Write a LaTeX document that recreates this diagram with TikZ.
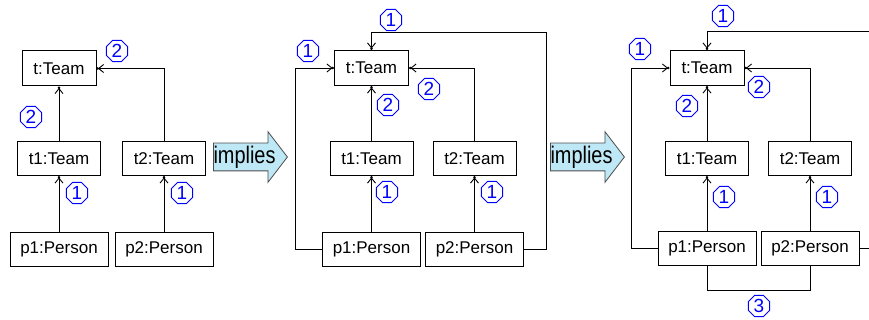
\documentclass[tikz,border=0pt]{standalone}
\usepackage{fontspec}
\setmainfont{Liberation Sans}
\usetikzlibrary{positioning, arrows.meta, shapes.geometric, shapes.arrows}
\definecolor{impliesfill}{RGB}{190,232,245}

\begin{document}
\begin{tikzpicture}[
    x=1pt, y=-1pt,
    topbox/.style={rectangle, draw=black, line width=1pt, minimum width=74pt, minimum height=35pt, font=\fontsize{17}{20}\selectfont, inner sep=2pt},
    teambox/.style={topbox, minimum width=83pt, minimum height=34pt},
    personbox/.style={topbox, minimum width=98pt, minimum height=34pt},
    implies/.style={single arrow, draw=black!70, fill=impliesfill, line width=0.8pt, anchor=tail, minimum height=74pt, single arrow head extend=11.5pt, single arrow tip angle=105, inner xsep=0pt, inner ysep=13.5pt},
    impliestext/.style={font=\fontsize{24}{26}\selectfont, xscale=0.83, transform shape, inner sep=0pt},
    order/.style={regular polygon, regular polygon sides=8, draw=blue, text=blue, line width=0.8pt, minimum size=23pt, inner sep=0pt, font=\fontsize{19}{20}\selectfont},
    conn/.style={-{Straight Barb[length=5pt, width=8pt, sep=-1pt] Circle[length=2.4pt]}, line width=0.9pt},
    link/.style={line width=0.9pt}
]
    \clip (0,0) rectangle (869,320);

    % first panel
    \node[topbox] (ta) at (59,68.5) {t:Team};
    \node[teambox] (t1a) [below=54.5pt of ta] {t1:Team};
    \node[teambox] (t2a) [right=21pt of t1a] {t2:Team};
    \node[personbox] (p1a) [below=56pt of t1a] {p1:Person};
    \node[personbox] (p2a) [below=56pt of t2a] {p2:Person};

    \draw[conn] (p1a) -- (t1a);
    \draw[conn] (p2a) -- (t2a);
    \draw[conn] (t1a) -- (ta);
    \draw[conn] (t2a.north) |- (ta.east);

    \node[order] (oa1) at (117,51) {2};
    \node[order] (oa2) at (31,117) {2};
    \node[order] (oa3) at (77,193) {1};
    \node[order] (oa4) at (182,193) {1};

    \node[implies] (imp1) at (213,157) {};
    \node[impliestext] (lbl1) at ([xshift=31.5pt]imp1.tail) {implies};

    % second panel
    \node[topbox] (tb) at (371.5,68) {t:Team};
    \node[teambox] (t1b) [below=55pt of tb] {t1:Team};
    \node[teambox] (t2b) [right=19pt of t1b] {t2:Team};
    \node[personbox] (p1b) [below=56pt of t1b] {p1:Person};
    \node[personbox] (p2b) [below=56pt of t2b] {p2:Person};

    \draw[conn] (p1b) -- (t1b);
    \draw[conn] (p2b) -- (t2b);
    \draw[conn] (t1b) -- (tb);
    \draw[conn] (t2b.north) |- (tb.east);
    \draw[conn] (p1b.west) -- ++(-27,0) |- (tb.west);
    \draw[conn] (p2b.east) -- ++(22,0) |- ([yshift=18pt]tb.north) -- (tb.north);

    \node[order] (ob1) at (391,20) {1};
    \node[order] (ob2) at (308,51) {1};
    \node[order] (ob3) at (429,89) {2};
    \node[order] (ob4) at (388,105) {2};
    \node[order] (ob5) at (387,192) {1};
    \node[order] (ob6) at (492,192) {1};

    \node[implies] (imp2) at (550,157) {};
    \node[impliestext] (lbl2) at ([xshift=31.5pt]imp2.tail) {implies};

    % third panel
    \node[topbox] (tc) at (707,68) {t:Team};
    \node[teambox] (t1c) [below=55pt of tc] {t1:Team};
    \node[teambox] (t2c) [right=19pt of t1c] {t2:Team};
    \node[personbox] (p1c) [below=55pt of t1c] {p1:Person};
    \node[personbox] (p2c) [below=55pt of t2c] {p2:Person};

    \draw[conn] (p1c) -- (t1c);
    \draw[conn] (p2c) -- (t2c);
    \draw[conn] (t1c) -- (tc);
    \draw[conn] (t2c.north) |- (tc.east);
    \draw[conn] (p1c.west) -- ++(-26,0) |- (tc.west);
    \draw[conn] (p2c.east) -- ++(40,0) |- ([yshift=19pt]tc.north) -- (tc.north);
    \draw[link] (p1c.south) -- ++(0,24) -| (p2c.south);

    \node[order] (oc1) at (723,16) {1};
    \node[order] (oc2) at (640,49) {1};
    \node[order] (oc3) at (759,87) {2};
    \node[order] (oc4) at (687,106) {2};
    \node[order] (oc5) at (724,197) {1};
    \node[order] (oc6) at (827,197) {1};
    \node[order] (oc7) at (759,306) {3};
\end{tikzpicture}
\end{document}
